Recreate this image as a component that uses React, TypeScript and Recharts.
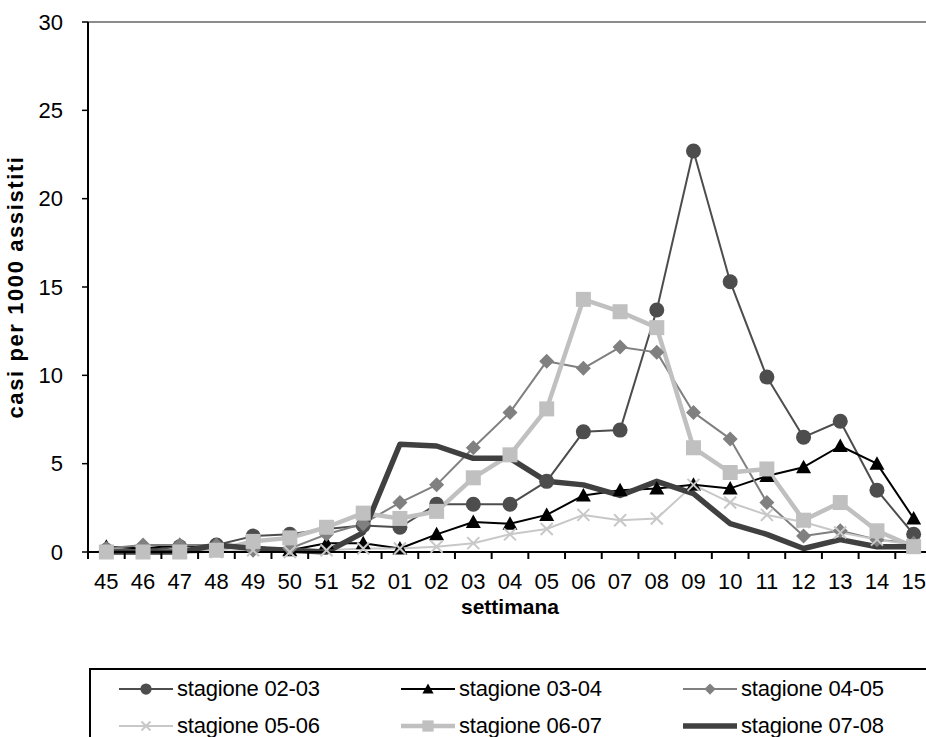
import { CartesianGrid, Label, Line, LineChart, ReferenceLine, XAxis, YAxis } from 'recharts'

const weeks = ['45', '46', '47', '48', '49', '50', '51', '52', '01', '02', '03', '04', '05', '06', '07', '08', '09', '10', '11', '12', '13', '14', '15']

const s0203 = [0.1, 0.1, 0.3, 0.4, 0.9, 1.0, 1.3, 1.5, 1.4, 2.7, 2.7, 2.7, 4.0, 6.8, 6.9, 13.7, 22.7, 15.3, 9.9, 6.5, 7.4, 3.5, 1.0]
const s0304 = [0.3, 0.2, 0.4, 0.3, 0.3, 0.1, 0.5, 0.5, 0.2, 1.0, 1.7, 1.6, 2.1, 3.2, 3.5, 3.6, 3.8, 3.6, 4.3, 4.8, 6.0, 5.0, 1.9]
const s0405 = [0.2, 0.4, 0.4, 0.4, 0.1, 0.2, 1.0, 1.6, 2.8, 3.8, 5.9, 7.9, 10.8, 10.4, 11.6, 11.3, 7.9, 6.4, 2.8, 0.9, 1.2, 0.7, 0.5]
const s0506 = [0, 0, 0, 0, 0.1, 0, 0.1, 0.2, 0.2, 0.3, 0.5, 1.0, 1.3, 2.1, 1.8, 1.9, 3.8, 2.8, 2.1, 1.7, 1.1, 0.7, 0.4]
const s0607 = [0, 0, 0, 0.1, 0.6, 0.8, 1.4, 2.2, 1.9, 2.3, 4.2, 5.5, 8.1, 14.3, 13.6, 12.7, 5.9, 4.5, 4.7, 1.8, 2.8, 1.2, 0.3]
const s0708 = [0, 0, 0, 0.4, 0.2, 0.1, 0, 1.1, 6.1, 6.0, 5.3, 5.3, 4.0, 3.8, 3.2, 4.0, 3.3, 1.6, 1.0, 0.2, 0.7, 0.3, 0.3]

const yTicks = [0, 5, 10, 15, 20, 25, 30]

const data = weeks.map((w, i) => ({
  week: w,
  s0203: s0203[i],
  s0304: s0304[i],
  s0405: s0405[i],
  s0506: s0506[i],
  s0607: s0607[i],
  s0708: s0708[i],
}))

const FONT = '"Liberation Sans", Arial, sans-serif'
const PLOT_W = 844
const TICK_SIZE = 6
const TICK_MARGIN = 15

type Shape = 'circle' | 'triangle' | 'diamond' | 'cross' | 'square' | 'none'

function Marker({ cx, cy, shape, color, s = 1 }: { cx: number; cy: number; shape: Shape; color: string; s?: number }) {
  if (cx == null || cy == null) return null
  if (shape === 'circle') return <circle cx={cx} cy={cy} r={7.5 * s} fill={color} />
  if (shape === 'triangle') {
    const h = 7.5 * s
    return <polygon points={`${cx},${cy - h} ${cx + h},${cy + h * 0.8} ${cx - h},${cy + h * 0.8}`} fill={color} />
  }
  if (shape === 'diamond') {
    const h = 7.5 * s
    return <polygon points={`${cx},${cy - h} ${cx + h},${cy} ${cx},${cy + h} ${cx - h},${cy}`} fill={color} />
  }
  if (shape === 'square') {
    const h = 7.5 * s
    return <rect x={cx - h} y={cy - h} width={2 * h} height={2 * h} fill={color} />
  }
  if (shape === 'cross') {
    const h = 6 * s
    return (
      <g stroke={color} strokeWidth={2}>
        <line x1={cx - h} y1={cy - h} x2={cx + h} y2={cy + h} />
        <line x1={cx - h} y1={cy + h} x2={cx + h} y2={cy - h} />
      </g>
    )
  }
  return null
}

const series: { key: string; name: string; color: string; width: number; shape: Shape }[] = [
  { key: 's0203', name: 'stagione 02-03', color: '#4d4d4d', width: 2, shape: 'circle' },
  { key: 's0304', name: 'stagione 03-04', color: '#000000', width: 2, shape: 'triangle' },
  { key: 's0405', name: 'stagione 04-05', color: '#808080', width: 2, shape: 'diamond' },
  { key: 's0506', name: 'stagione 05-06', color: '#c8c8c8', width: 2, shape: 'cross' },
  { key: 's0607', name: 'stagione 06-07', color: '#c0c0c0', width: 4.5, shape: 'square' },
  { key: 's0708', name: 'stagione 07-08', color: '#404040', width: 5.5, shape: 'none' },
]

// category labels centred in bands, tick marks on the band edges (Excel style)
function WeekTick(props: any) {
  const { x, y, payload, index } = props
  const off = Number(payload?.offset)
  const half = Number.isFinite(off) && off > 1 ? off : PLOT_W / weeks.length / 2
  const last = index === weeks.length - 1
  const top = Number(y) - TICK_MARGIN - TICK_SIZE
  return (
    <g>
      <path d={`M${x - half},${top}v${TICK_SIZE + 1}`} stroke="#000" strokeWidth={2} fill="none" />
      {last && <path d={`M${x + half},${top}v${TICK_SIZE + 1}`} stroke="#000" strokeWidth={2} fill="none" />}
      <text x={x} y={y} dy="0.71em" textAnchor="middle" fontSize={22} fontFamily={FONT} fill="#000">
        {payload.value}
      </text>
    </g>
  )
}

const legendCols = [117, 399, 681]
const legendRows = [687, 724]

function LegendBox() {
  return (
    <div
      style={{
        position: 'absolute',
        left: 89,
        top: 668,
        width: 880,
        height: 120,
        border: '2px solid #000',
        boxSizing: 'border-box',
      }}
    >
      {series.map((s, i) => {
        const col = i % 3
        const row = Math.floor(i / 3)
        return (
          <div
            key={s.key}
            style={{
              position: 'absolute',
              left: legendCols[col] - 89,
              top: legendRows[row] - 668 - 15,
              height: 30,
              display: 'flex',
              alignItems: 'center',
              fontFamily: FONT,
              fontSize: 22,
              whiteSpace: 'nowrap',
            }}
          >
            <svg width={56} height={30} style={{ marginRight: 2 }}>
              <line x1={0} y1={15} x2={54} y2={15} stroke={s.color} strokeWidth={s.width} />
              <Marker cx={27} cy={15} shape={s.shape} color={s.color} s={0.75} />
            </svg>
            <span style={{ letterSpacing: -0.2 }}>{s.name}</span>
          </div>
        )
      })}
    </div>
  )
}

export default function App() {
  return (
    <div style={{ position: 'absolute', left: 0, top: 0, width: 926, height: 737, overflow: 'hidden', background: '#fff' }}>
      <LineChart width={960} height={737} data={data} margin={{ top: 22, right: 28, left: 0, bottom: 95 }}>
        <CartesianGrid horizontal={false} vertical={false} />
        <XAxis
          dataKey="week"
          scale="band"
          height={90}
          interval={0}
          tickLine={false}
          axisLine={{ stroke: '#000', strokeWidth: 2 }}
          tickSize={TICK_SIZE}
          tickMargin={TICK_MARGIN}
          tick={<WeekTick />}
        >
          <Label value="settimana" position="insideBottom" offset={28} style={{ fontSize: 21, fontWeight: 'bold', fontFamily: FONT, fill: '#000' }} />
        </XAxis>
        <YAxis
          width={88}
          domain={[0, 30]}
          ticks={yTicks}
          interval={0}
          tickSize={6}
          tickMargin={19}
          tickLine={{ stroke: '#000', strokeWidth: 1.5 }}
          axisLine={{ stroke: '#000', strokeWidth: 2 }}
          tick={{ fontSize: 22, fontFamily: FONT, fill: '#000' }}
        >
          <Label
            value="casi per 1000 assistiti"
            angle={-90}
            position="center"
            dx={-29}
            style={{ fontSize: 22, fontWeight: 'bold', fontFamily: FONT, fill: '#000', textAnchor: 'middle', letterSpacing: 1.6 }}
          />
        </YAxis>
        <ReferenceLine y={30} stroke="#8c8c8c" strokeWidth={2} />
        {series.map((s) => (
          <Line
            key={s.key}
            type="linear"
            dataKey={s.key}
            name={s.name}
            stroke={s.color}
            strokeWidth={s.width}
            strokeLinejoin="round"
            dot={(p: any) => <Marker key={`${s.key}-${p.index}`} cx={p.cx} cy={p.cy} shape={s.shape} color={s.color} />}
            activeDot={false}
            isAnimationActive={false}
          />
        ))}
      </LineChart>
      <LegendBox />
    </div>
  )
}
